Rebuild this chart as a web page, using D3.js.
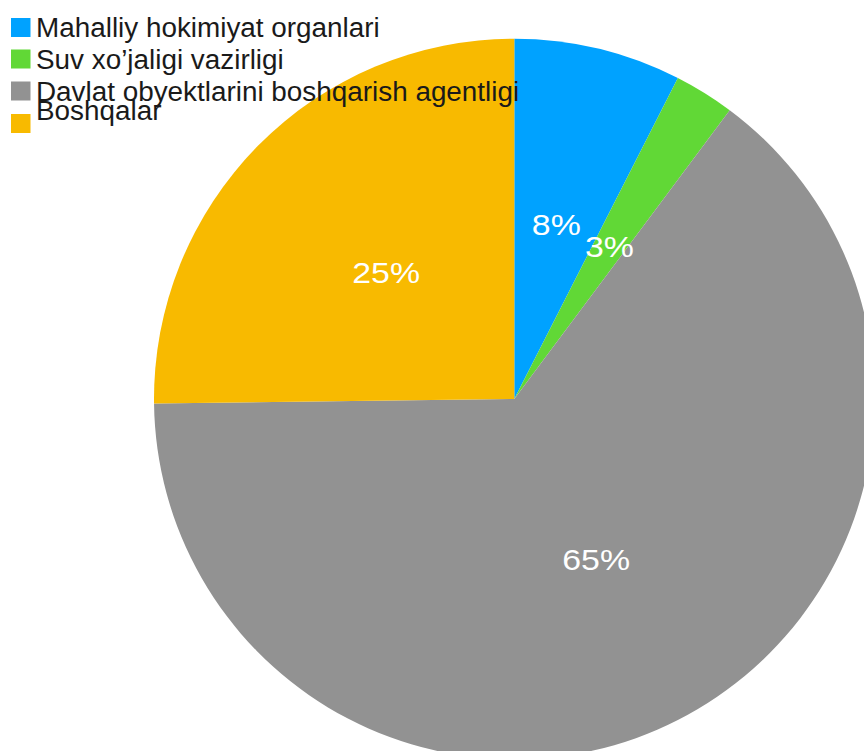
<!DOCTYPE html>
<html>
<head>
<meta charset="utf-8">
<script src="https://cdn.jsdelivr.net/npm/d3@7/dist/d3.min.js"></script>
<style>
  html, body { margin: 0; padding: 0; background: #fff; overflow: hidden; }
  svg { display: block; }
</style>
</head>
<body>
<svg id="chart" width="864" height="751"></svg>
<script>
const categories = [
  "Mahalliy hokimiyat organlari",
  "Suv xo\u2019jaligi vazirligi",
  "Davlat obyektlarini boshqarish agentligi",
  "Boshqalar"
];
const shares = [7.5, 2.7, 64.6, 25.2];
const colors = ["#00A2FF", "#61D836", "#929292", "#F8BA00"];

const svg = d3.select("#chart");
const cx = 514.3, cy = 399, R = 360.3;

const data = categories.map((c, i) => ({ name: c, value: shares[i], color: colors[i] }));
const total = d3.sum(shares);

const pie = d3.pie().sort(null).value(d => d.value);
const arcs = pie(data);
const arc = d3.arc().innerRadius(0).outerRadius(R);

const g = svg.append("g").attr("transform", `translate(${cx},${cy})`);

g.selectAll("path.slice")
  .data(arcs)
  .enter().append("path")
  .attr("class", "slice")
  .attr("d", arc)
  .attr("fill", d => d.data.color);

const labelSize = 30;
g.selectAll("text.pct")
  .data(arcs)
  .enter().append("text")
  .attr("class", "pct")
  .attr("transform", d => {
    const [x, y] = arc.centroid(d);
    return `translate(${x},${y + labelSize * 0.358}) scale(1.13,1)`;
  })
  .attr("text-anchor", "middle")
  .attr("font-family", "'Liberation Sans', Arial, sans-serif")
  .attr("font-size", labelSize)
  .attr("fill", "#ffffff")
  .text(d => Math.round(d.data.value / total * 100) + "%");

// Legend (drawn on top of the pie)
const legend = svg.append("g");
const sqY = [18, 49.5, 81.5, 114];
const txtY = [37, 68.7, 100.5, 119.5];
const items = legend.selectAll("g.item")
  .data(data)
  .enter().append("g")
  .attr("class", "item");

items.append("rect")
  .attr("x", 11)
  .attr("y", (d, i) => sqY[i])
  .attr("width", 19.5)
  .attr("height", 19)
  .attr("fill", d => d.color);

items.append("text")
  .attr("transform", (d, i) => `translate(36,${txtY[i]}) scale(1.04,1)`)
  .attr("font-family", "'Liberation Sans', Arial, sans-serif")
  .attr("font-size", 26.8)
  .attr("fill", "#1a1a1a")
  .text(d => d.name);
</script>
</body>
</html>
